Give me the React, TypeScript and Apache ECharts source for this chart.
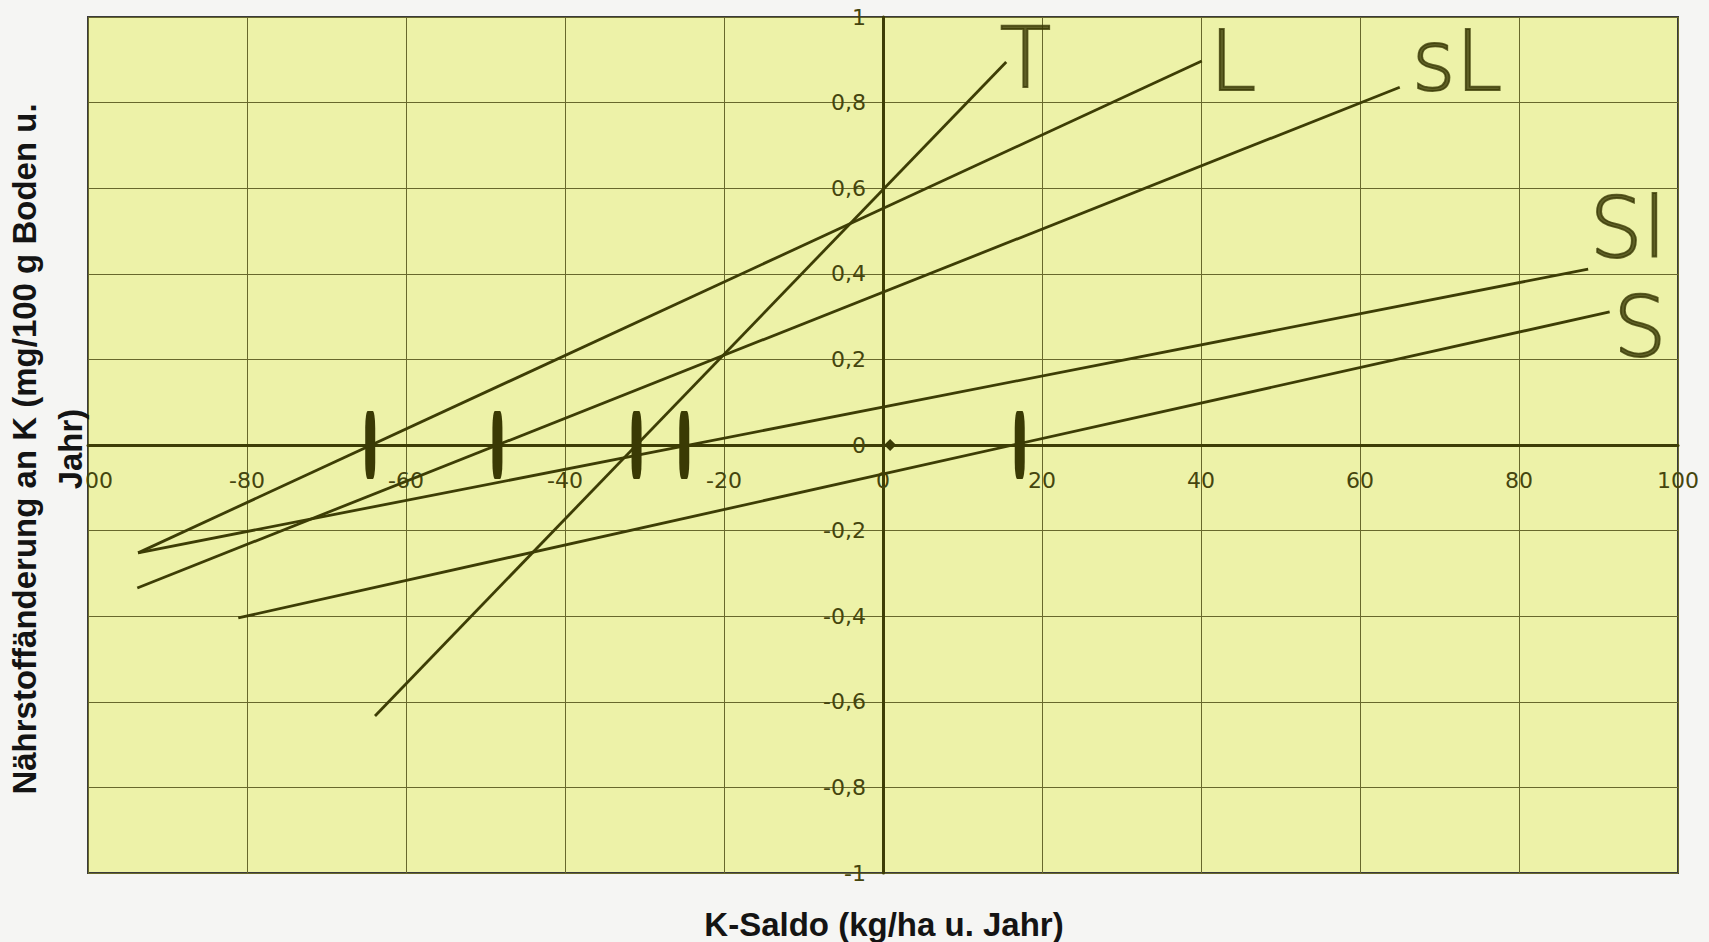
import React, { useEffect, useRef } from "react";
import * as echarts from "echarts";

// Soil-type regression lines: [K-Saldo, Nährstoffänderung]
const lineT = [[-63.9, -0.633], [15.5, 0.895]];
const lineL = [[-93.7, -0.252], [40.1, 0.897]];
const lineSL = [[-93.8, -0.334], [65.0, 0.836]];
const lineSl = [[-93.7, -0.252], [88.7, 0.411]];
const lineS = [[-81.1, -0.404], [91.4, 0.311]];

// x-intercept markers on the zero line
const interceptX = [-64.5, -48.5, -31.0, -25.0, 17.2];
// small diamond near origin
const originMark = [[0.9, 0]];

// handwritten labels
const labelNames = ["T", "L", "sL", "Sl", "S"];
const labelPos = [
  [17.9, 0.904],
  [44.0, 0.897],
  [72.2, 0.897],
  [93.7, 0.506],
  [95.2, 0.276],
];

const xTitle = "K-Saldo (kg/ha u. Jahr)";
const yTitle = "Nährstoffänderung an K (mg/100 g Boden u.\nJahr)";

const INK = "#3d3d05";
const GRIDC = "#68682c";
const LABELC = "#45450e";
const FONT = "'Liberation Sans', Arial, sans-serif";
const TICKFONT = "'DejaVu Sans', 'Liberation Sans', sans-serif";

const GRID = { left: 88, right: 31, top: 17, bottom: 69 };
const W = 1709;
const H = 942;

export default function App() {
  const ref = useRef<HTMLDivElement>(null);

  useEffect(() => {
    if (!ref.current) return;
    const chart = echarts.init(ref.current, null, { renderer: "svg" });
    const lines = [lineT, lineL, lineSL, lineSl, lineS];
    const plotW = W - GRID.left - GRID.right;
    const plotH = H - GRID.top - GRID.bottom;
    const option: any = {
      animation: false,
      backgroundColor: "#f5f5f3",
      grid: {
        ...GRID,
        show: true,
        backgroundColor: "#edf2a8",
        borderColor: "#3a3a3a",
        borderWidth: 2,
      },
      xAxis: {
        type: "value",
        min: -100,
        max: 100,
        interval: 20,
        position: "bottom",
        offset: -plotH / 2,
        axisLine: { show: true, onZero: false, lineStyle: { color: INK, width: 3 } },
        axisTick: { show: false },
        axisLabel: {
          color: LABELC,
          fontSize: 22,
          fontFamily: TICKFONT,
          margin: 24,
          showMinLabel: true,
          showMaxLabel: true,
        },
        splitLine: { show: true, lineStyle: { color: GRIDC, width: 1 } },
      },
      yAxis: {
        type: "value",
        min: -1,
        max: 1,
        interval: 0.2,
        position: "left",
        offset: -plotW / 2,
        axisLine: { show: true, onZero: false, lineStyle: { color: INK, width: 3 } },
        axisTick: { show: false },
        axisLabel: {
          color: LABELC,
          fontSize: 22,
          fontFamily: TICKFONT,
          margin: 17,
          showMinLabel: true,
          showMaxLabel: true,
          formatter: (v: number) => {
            const r = Math.round(v * 10) / 10;
            if (r === 0) return "0";
            if (Math.abs(r) === 1) return String(r);
            return r.toFixed(1).replace(".", ",");
          },
        },
        splitLine: { show: true, lineStyle: { color: GRIDC, width: 1 } },
      },
      series: [
        ...lines.map((d) => ({
          type: "line",
          data: d,
          showSymbol: false,
          symbol: "none",
          lineStyle: { color: INK, width: 2.8 },
          z: 3,
        })),
        {
          type: "scatter",
          data: interceptX.map((x) => [x, 0]),
          symbol: "roundRect",
          symbolSize: [10, 68],
          itemStyle: { color: "#3a3a04", opacity: 1 },
          z: 4,
        },
        {
          type: "scatter",
          data: originMark,
          symbol: "diamond",
          symbolSize: 12,
          itemStyle: { color: "#3a3a04", opacity: 1 },
          z: 4,
        },
        {
          type: "scatter",
          data: labelPos.map((p, i) => ({ value: p, name: labelNames[i] })),
          symbolSize: 1,
          itemStyle: { color: "rgba(0,0,0,0)" },
          label: {
            show: true,
            position: "inside",
            formatter: (p: any) => p.name,
            color: "#3a3a05",
            fontSize: 84,
            lineHeight: 66,
            fontWeight: 200,
            fontFamily: "'DejaVu Sans', sans-serif",
            textBorderColor: "#3a3a05",
            textBorderWidth: 1.8,
          },
          z: 5,
        },
      ],
      graphic: [
        {
          type: "rect",
          left: 0,
          top: 0,
          z: 100,
          shape: { x: 0, y: 0, width: 86, height: H },
          style: { fill: "#f5f5f3" },
        },
        {
          type: "text",
          x: 47,
          y: 449,
          rotation: Math.PI / 2,
          z: 101,
          style: {
            text: yTitle,
            align: "center",
            verticalAlign: "middle",
            font: `bold 33px ${FONT}`,
            lineHeight: 46,
            fill: "#141414",
          },
        },
        {
          type: "text",
          x: 884,
          y: 924,
          z: 101,
          style: {
            text: xTitle,
            align: "center",
            verticalAlign: "middle",
            font: `bold 33px ${FONT}`,
            fill: "#141414",
          },
        },
      ],
    };
    chart.setOption(option);
    return () => chart.dispose();
  }, []);

  return (
    <div
      ref={ref}
      style={{ position: "fixed", left: 0, top: 0, width: W, height: H }}
    />
  );
}
